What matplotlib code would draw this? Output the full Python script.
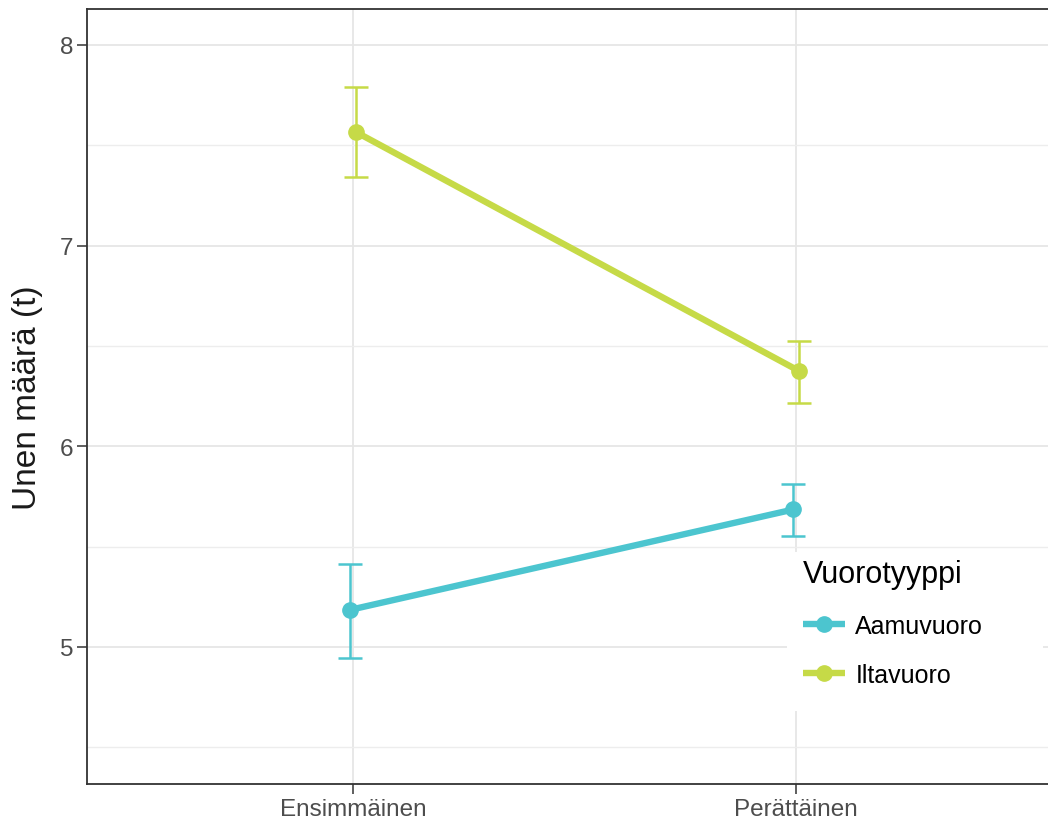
import matplotlib.pyplot as plt
from matplotlib.patches import Rectangle
import numpy as np

categories = ["Ensimmäinen", "Perättäinen"]
groups = ["Aamuvuoro", "Iltavuoro"]
means = {
    "Aamuvuoro": [5.185, 5.685],
    "Iltavuoro": [7.567, 6.376],
}
lower = {
    "Aamuvuoro": [4.946, 5.554],
    "Iltavuoro": [7.342, 6.216],
}
upper = {
    "Aamuvuoro": [5.414, 5.813],
    "Iltavuoro": [7.790, 6.525],
}
colors = {"Aamuvuoro": "#4cc5cf", "Iltavuoro": "#c6da47"}
dodge = {"Aamuvuoro": -0.006, "Iltavuoro": 0.006}

plt.rcParams['font.family'] = ['Liberation Sans', 'DejaVu Sans']

W, H = 1048, 820
fig = plt.figure(figsize=(W / 100, H / 100), dpi=100)
ax = fig.add_axes([87/W, 35/H, 975/W, 775/H])

x = np.arange(len(categories))
for g in groups:
    xs = x + dodge[g]
    m = np.array(means[g])
    lo = m - np.array(lower[g])
    hi = np.array(upper[g]) - m
    ax.errorbar(xs, m, yerr=[lo, hi], fmt='none', ecolor=colors[g],
                elinewidth=1.8, capsize=8.5, capthick=1.8, zorder=3)
    ax.plot(xs, m, color=colors[g], lw=4.6, marker='o', markersize=11,
            solid_capstyle='butt', label=g, zorder=4)

ax.set_xlim(-0.6, 1.6)
ax.set_ylim(4.317, 8.179)
ax.set_xticks(x)
ax.set_xticklabels(categories)
ax.set_yticks([5, 6, 7, 8])
ax.set_yticks([4.5, 5.5, 6.5, 7.5], minor=True)

ax.grid(True, which='major', color='#e6e6e6', lw=1.3, zorder=0)
ax.grid(True, which='minor', axis='y', color='#ededed', lw=1.0, zorder=0)
ax.set_axisbelow(True)
ax.tick_params(which='minor', length=0)
ax.tick_params(which='major', length=7, width=1.1, color='#333333',
               labelsize=17.5, labelcolor='#4d4d4d', pad=3)
for s in ax.spines.values():
    s.set_color('#333333')
    s.set_linewidth(1.3)

ax.set_ylabel("Unen määrä (t)", fontsize=24, color='#1a1a1a', labelpad=12)

# white legend background
bg = Rectangle((787/W, 1 - 712/H), (1043 - 787)/W, (712 - 553)/H,
               transform=fig.transFigure, facecolor='white', edgecolor='none',
               zorder=2.5)
ax.add_patch(bg)

leg = ax.legend(loc='upper left', bbox_to_anchor=(784/W, 1 - 541/H),
                bbox_transform=fig.transFigure, title="Vuorotyyppi",
                fontsize=18, title_fontsize=22, frameon=False,
                alignment='left', handlelength=1.7,
                labelspacing=1.0, borderpad=0.25, handletextpad=0.4)
leg.set_zorder(10)

fig.savefig("out.png", dpi=100)
